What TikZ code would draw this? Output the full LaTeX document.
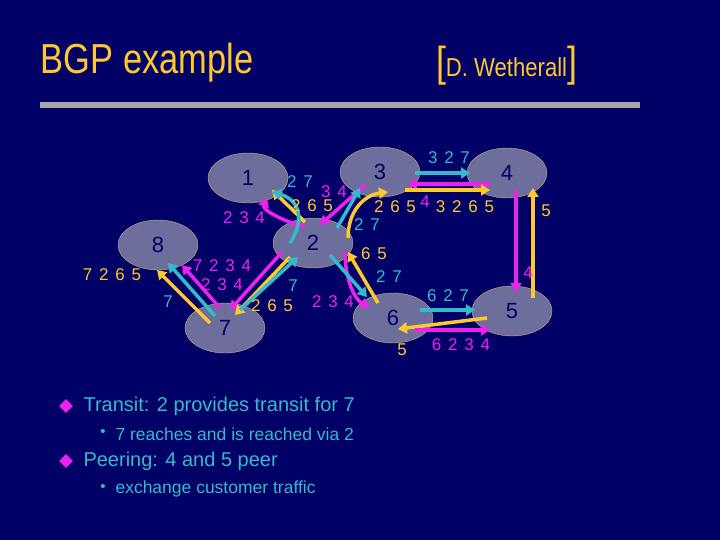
\documentclass[tikz,border=0pt]{standalone}
\usepackage{fontspec}
\setmainfont{Liberation Sans}
\usetikzlibrary{arrows.meta,shapes.geometric}
\definecolor{bg}{HTML}{000066}
\definecolor{nodefill}{HTML}{6E6E9C}
\definecolor{nodeedge}{HTML}{C8B07A}
\definecolor{cy}{HTML}{33BBCC}
\definecolor{mg}{HTML}{EE22EE}
\definecolor{gd}{HTML}{FFC82E}
\definecolor{title}{HTML}{FFC82E}
\tikzset{
 as/.style={ellipse,draw=nodeedge,fill=nodefill,minimum width=80pt,minimum height=50pt,inner sep=0pt,font=\fontsize{22}{22}\selectfont,text=bg},
 ar/.style={line width=3.5pt,-{Triangle[length=9pt,width=11pt]}},
 lab/.style={font=\fontsize{17}{17}\selectfont\addfontfeatures{LetterSpace=12},inner sep=0pt},
}
\begin{document}
\begin{tikzpicture}[x=1pt,y=-1pt]
\fill[bg] (0,0) rectangle (720,540);
\useasboundingbox (0,0) rectangle (720,540);
\node[anchor=west,text=title,font=\fontsize{42}{42}\selectfont,xscale=0.82,transform shape] (t) at (38,63) {BGP example};
\node[anchor=west,text=title,font=\fontsize{26}{26}\selectfont,xscale=0.85,transform shape] (w) at (433,66) {{\fontsize{42}{42}\selectfont[}D. Wetherall{\fontsize{42}{42}\selectfont]}};
\fill[gray!70] (40,102) rectangle (640,108);
% nodes
\node[as] (n1) at (248,178) {1};
\node[as] (n2) at (313,243) {2};
\node[as] (n3) at (380,172) {3};
\node[as] (n4) at (507,173) {4};
\node[as] (n5) at (512,311) {5};
\node[as] (n6) at (393,318) {6};
\node[as] (n7) at (225,328) {7};
\node[as] (n8) at (158,245) {8};
% coordinates for connector ends
\coordinate (a1) at (215,316); \coordinate (a2) at (168,263);
\coordinate (b1) at (210,323); \coordinate (b2) at (157,270);
\coordinate (c1) at (220,308); \coordinate (c2) at (182,265);
\coordinate (d1) at (282,252); \coordinate (d2) at (230,310);
\coordinate (e1) at (290,257); \coordinate (e2) at (235,315);
\coordinate (f1) at (240,310); \coordinate (f2) at (298,257);
\coordinate (g1) at (305,222); \coordinate (g2) at (272,190);
\coordinate (h1) at (305,227); \coordinate (h2) at (267,198);
\coordinate (i1) at (290,243); \coordinate (i2) at (272,192);
\coordinate (j1) at (365,185); \coordinate (j2) at (320,225);
\coordinate (k1) at (337,228); \coordinate (k2) at (360,188);
\coordinate (l1) at (348,238); \coordinate (l2) at (388,192);
\coordinate (m1) at (345,252); \coordinate (m2) at (370,307);
\coordinate (o1) at (330,255); \coordinate (o2) at (367,297);
\coordinate (p1) at (378,303); \coordinate (p2) at (348,252);
\coordinate (q1) at (415,173); \coordinate (q2) at (470,173);
\coordinate (r1) at (490,184); \coordinate (r2) at (408,184);
\coordinate (s1) at (405,190); \coordinate (s2) at (490,190);
\coordinate (u1) at (516,190); \coordinate (u2) at (516,292);
\coordinate (v1) at (533,298); \coordinate (v2) at (533,188);
\coordinate (w1) at (420,310); \coordinate (w2) at (475,310);
\coordinate (x1) at (487,318); \coordinate (x2) at (398,329);
\coordinate (y1) at (415,330); \coordinate (y2) at (490,330);
% arrows
\draw[ar,cy] (a1) -- (a2);
\draw[ar,gd] (b1) -- (b2);
\draw[ar,mg] (c1) -- (c2);
\draw[ar,mg] (d1) -- (d2);
\draw[ar,gd] (e1) -- (e2);
\draw[ar,cy] (f1) -- (f2);
\draw[ar,gd] (g1) -- (g2);
\draw[ar,mg] (h1) .. controls (285,222) and (262,210) .. (h2);
\draw[ar,cy] (i1) .. controls (305,220) and (300,200) .. (i2);
\draw[ar,mg] (j1) -- (j2);
\draw[ar,cy] (k1) -- (k2);
\draw[ar,gd] (l1) .. controls (348,210) and (365,195) .. (l2);
\draw[ar,mg] (m1) .. controls (345,280) and (355,300) .. (m2);
\draw[ar,cy] (o1) -- (o2);
\draw[ar,gd] (p1) -- (p2);
\draw[ar,cy] (q1) -- (q2);
\draw[ar,mg] (r1) -- (r2);
\draw[ar,gd] (s1) -- (s2);
\draw[ar,mg] (u1) -- (u2);
\draw[ar,gd] (v1) -- (v2);
\draw[ar,cy] (w1) -- (w2);
\draw[ar,gd] (x1) -- (x2);
\draw[ar,mg] (y1) -- (y2);
% labels
\node[lab,text=cy] (l01) at (300,182) {2 7};
\node[lab,text=mg] (l02) at (334,192) {3 4};
\node[lab,text=gd] (l03) at (312,206) {2 6 5};
\node[lab,text=mg] (l04) at (244,218) {2 3 4};
\node[lab,text=mg] (l05) at (222,266) {7 2 3 4};
\node[lab,text=mg] (l06) at (222,285) {2 3 4};
\node[lab,text=gd] (l07) at (112,275) {7 2 6 5};
\node[lab,text=cy] (l08) at (168,302) {7};
\node[lab,text=cy] (l09) at (293,286) {7};
\node[lab,text=gd] (l10) at (272,306) {2 6 5};
\node[lab,text=mg] (l11) at (333,302) {2 3 4};
\node[lab,text=gd] (l12) at (374,254) {6 5};
\node[lab,text=cy] (l13) at (389,277) {2 7};
\node[lab,text=cy] (l14) at (367,225) {2 7};
\node[lab,text=gd] (l15) at (395,207) {2 6 5};
\node[lab,text=cy] (l16) at (449,158) {3 2 7};
\node[lab,text=mg] (l17) at (425,202) {4};
\node[lab,text=gd] (l18) at (465,207) {3 2 6 5};
\node[lab,text=mg] (l19) at (528,273) {4};
\node[lab,text=gd] (l20) at (546,211) {5};
\node[lab,text=cy] (l21) at (448,296) {6 2 7};
\node[lab,text=gd] (l22) at (402,350) {5};
\node[lab,text=mg] (l23) at (461,345) {6 2 3 4};
% bullets
\node[diamond,fill=mg,inner sep=0pt,minimum size=14pt] (d1b) at (66,406) {};
\node[anchor=west,text=cy,font=\fontsize{20}{20}\selectfont] (b1t) at (80,406) {Transit: 2 provides transit for 7};
\node[text=cy,font=\fontsize{15}{15}\selectfont] (s1b) at (103,433) {•};
\node[anchor=west,text=cy,font=\fontsize{17.5}{17.5}\selectfont] (s1t) at (112,434) {7 reaches and is reached via 2};
\node[diamond,fill=mg,inner sep=0pt,minimum size=14pt] (d2b) at (66,461) {};
\node[anchor=west,text=cy,font=\fontsize{20}{20}\selectfont] (b2t) at (80,461) {Peering: 4 and 5 peer};
\node[text=cy,font=\fontsize{15}{15}\selectfont] (s2b) at (103,488) {•};
\node[anchor=west,text=cy,font=\fontsize{17.5}{17.5}\selectfont] (s2t) at (112,489) {exchange customer traffic};
\end{tikzpicture}
\end{document}
